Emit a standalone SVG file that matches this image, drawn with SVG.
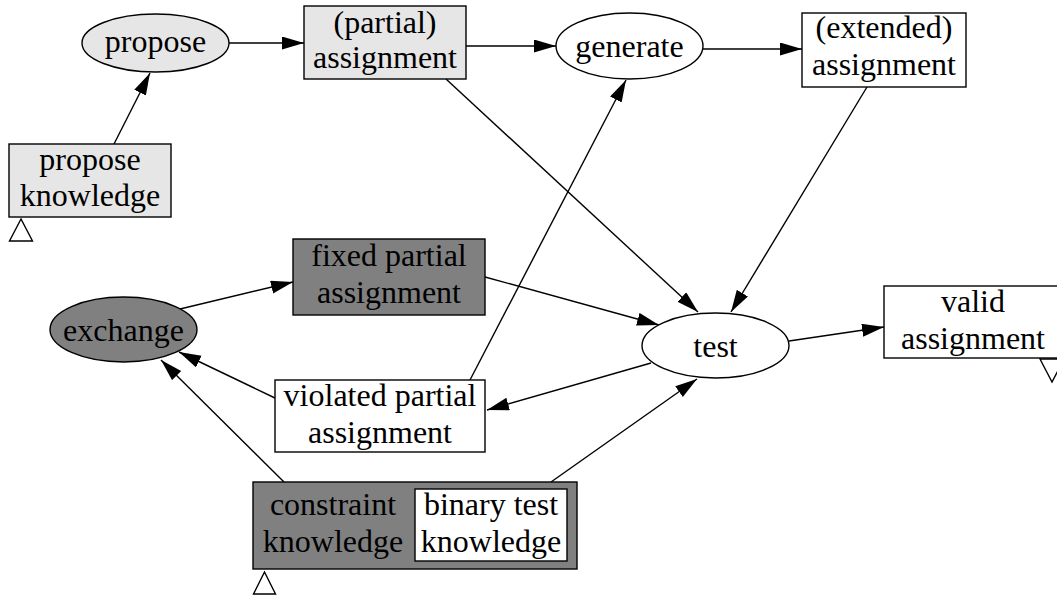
<svg xmlns="http://www.w3.org/2000/svg" width="1057" height="596" viewBox="0 0 1057 596">
<defs>
<style>
text{font-family:"Liberation Serif","Times New Roman",serif;font-size:32px;fill:#000;text-anchor:middle}
.n{stroke:#000;stroke-width:1.4}
.lt{fill:#e6e6e6}
.dk{fill:#808080}
.wh{fill:#fff}
.e{stroke:#000;stroke-width:1.4;fill:none;marker-end:url(#ah)}
.tri{fill:#fff;stroke:#000;stroke-width:1.4}
</style>
<marker id="ah" markerUnits="userSpaceOnUse" markerWidth="24" markerHeight="14" refX="22" refY="6.5" orient="auto">
<path d="M0,0 L22,6.5 L0,13 z" fill="#000"/>
</marker>
</defs>
<rect width="1057" height="596" fill="#fff"/>
<g id="connectors">
<line class="e" x1="229" y1="43" x2="304" y2="43"/>
<line class="e" x1="114" y1="144" x2="150" y2="73"/>
<line class="e" x1="466" y1="46" x2="556" y2="46"/>
<line class="e" x1="703" y1="49" x2="802" y2="49"/>
<line class="e" x1="446" y1="79" x2="698" y2="312"/>
<line class="e" x1="867" y1="87" x2="731" y2="312"/>
<line class="e" x1="470" y1="380" x2="626" y2="80"/>
<line class="e" x1="485" y1="277" x2="659" y2="325"/>
<line class="e" x1="651" y1="363" x2="487" y2="410"/>
<line class="e" x1="789" y1="341" x2="884" y2="327"/>
<line class="e" x1="180" y1="309" x2="293" y2="282"/>
<line class="e" x1="275" y1="398" x2="179" y2="352"/>
<line class="e" x1="284" y1="482" x2="161" y2="360"/>
<line class="e" x1="551" y1="482" x2="697" y2="379"/>
</g>
<g id="propose">
<ellipse class="n lt" cx="155.5" cy="43" rx="73.5" ry="29"/>
<text x="155.5" y="52">propose</text>
</g>
<g id="partial-assignment">
<rect class="n lt" x="304" y="6" width="162" height="73"/>
<text x="385" y="33">(partial)</text>
<text x="385" y="68">assignment</text>
</g>
<g id="propose-knowledge">
<rect class="n lt" x="9" y="144" width="162" height="73"/>
<text x="90" y="170">propose</text>
<text x="90" y="206">knowledge</text>
<polygon class="tri" points="21,219 9.5,241 32.5,241"/>
</g>
<g id="generate">
<ellipse class="n wh" cx="629.5" cy="46" rx="73.5" ry="33"/>
<text x="629.5" y="57">generate</text>
</g>
<g id="extended-assignment">
<rect class="n wh" x="802" y="13" width="164" height="74"/>
<text x="884" y="38">(extended)</text>
<text x="884" y="75">assignment</text>
</g>
<g id="fixed-partial-assignment">
<rect class="n dk" x="293" y="239" width="192" height="76"/>
<text x="389" y="266">fixed partial</text>
<text x="389" y="303">assignment</text>
</g>
<g id="exchange">
<ellipse class="n dk" cx="123.5" cy="329.5" rx="73.5" ry="32.5"/>
<text x="123.5" y="340.5">exchange</text>
</g>
<g id="test">
<ellipse class="n wh" cx="715.5" cy="345.5" rx="73.5" ry="32.5"/>
<text x="715.5" y="357">test</text>
</g>
<g id="valid-assignment">
<rect class="n wh" x="884" y="286" width="178" height="72"/>
<text x="973" y="312">valid</text>
<text x="973" y="349">assignment</text>
<polygon class="tri" points="1040,359 1064,359 1052,382"/>
</g>
<g id="violated-partial-assignment">
<rect class="n wh" x="275" y="380" width="210" height="72"/>
<text x="380" y="406">violated partial</text>
<text x="380" y="443">assignment</text>
</g>
<g id="constraint-knowledge">
<rect class="n dk" x="253" y="482" width="324" height="87"/>
<text x="333" y="515">constraint</text>
<text x="333" y="552">knowledge</text>
<polygon class="tri" points="264.5,572 253.5,594 275.5,594"/>
</g>
<g id="binary-test-knowledge">
<rect class="n wh" x="415" y="489" width="152" height="72"/>
<text x="491" y="515">binary test</text>
<text x="491" y="552">knowledge</text>
</g>
</svg>
